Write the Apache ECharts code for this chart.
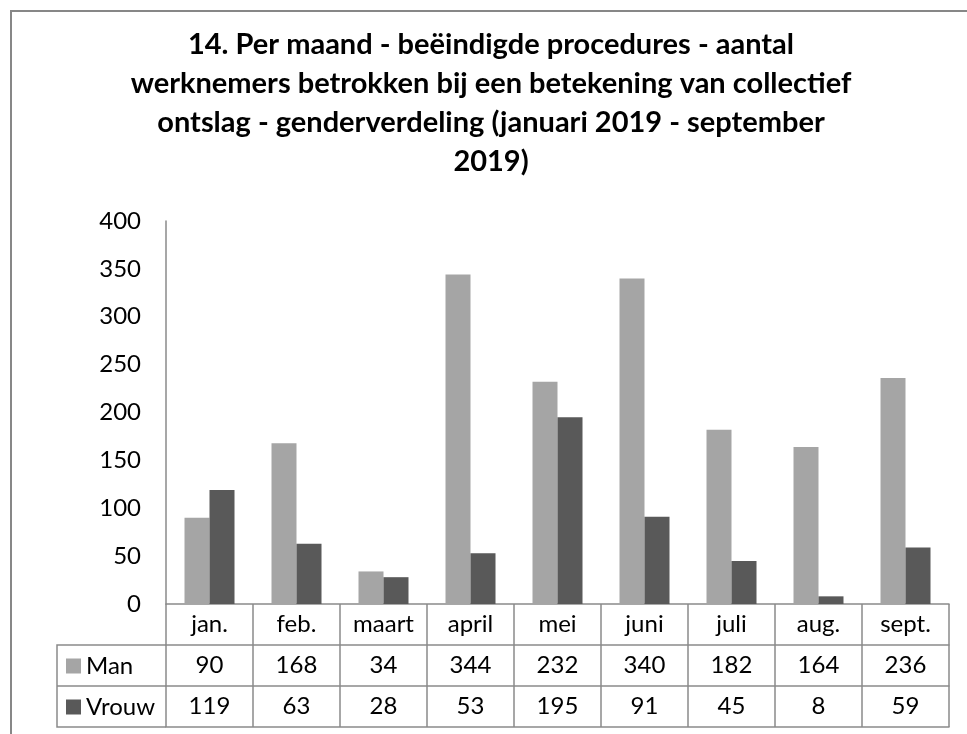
<html>
<head>
    <meta charset="utf-8">
    <script src="https://cdn.jsdelivr.net/npm/echarts@6/dist/echarts.min.js"></script>
</head>
<body style="margin:0">
<div id="main" style="width:967px;height:734px"></div>
<script>
    var months = ['jan.', 'feb.', 'maart', 'april', 'mei', 'juni', 'juli', 'aug.', 'sept.'];
    var manData = [90, 168, 34, 344, 232, 340, 182, 164, 236];
    var vrouwData = [119, 63, 28, 53, 195, 91, 45, 8, 59];
    var yTicks = {min: 0, max: 400, interval: 50};

    var FONT = 'Lato';
    var lineColor = '#8a8a8a';
    var rowH = 41;
    var fs = 24;

    var chart = echarts.init(document.getElementById('main'));

    function tableAxis(offset, values, showTicks) {
        return {
            type: 'category',
            data: months,
            position: 'bottom',
            offset: offset,
            axisLine: {show: true, lineStyle: {color: lineColor, width: 1.5}},
            axisTick: {show: showTicks, length: rowH, lineStyle: {color: lineColor, width: 1.5}},
            axisLabel: {
                show: !!values,
                interval: 0,
                margin: 8,
                fontFamily: FONT,
                fontSize: fs,
                lineHeight: fs,
                color: '#000',
                formatter: function (v, i) {
                    return values ? String(values[i]) : '';
                }
            },
            splitLine: {show: false}
        };
    }

    var option = {
        backgroundColor: '#fff',
        animation: false,
        title: {
            text: '14. Per maand - beëindigde procedures - aantal\nwerknemers betrokken bij een betekening van collectief\nontslag - genderverdeling (januari 2019 - september\n2019)',
            left: 486,
            top: 20,
            textAlign: 'center',
            textStyle: {
                fontFamily: FONT,
                fontWeight: 'bold',
                fontSize: 29,
                lineHeight: 39,
                color: '#000'
            }
        },
        legend: {
            data: ['Man', 'Vrouw'],
            orient: 'vertical',
            left: 66,
            top: 654,
            padding: 0,
            itemGap: rowH - fs,
            itemWidth: 15,
            itemHeight: 15,
            icon: 'rect',
            selectedMode: false,
            textStyle: {fontFamily: FONT, fontSize: fs, lineHeight: fs, color: '#000'}
        },
        grid: {left: 166, right: 18, top: 221, bottom: 130, containLabel: false},
        xAxis: [
            tableAxis(0, months, true),
            tableAxis(rowH, manData, true),
            tableAxis(rowH * 2, vrouwData, true),
            tableAxis(rowH * 3, null, false)
        ],
        yAxis: {
            type: 'value',
            min: yTicks.min,
            max: yTicks.max,
            interval: yTicks.interval,
            axisLine: {show: true, lineStyle: {color: lineColor, width: 1.5}},
            axisTick: {show: false},
            splitLine: {show: false},
            axisLabel: {fontFamily: FONT, fontSize: fs, color: '#000', margin: 25}
        },
        graphic: [
            // outer chart border
            {type: 'rect', shape: {x: 11, y: 11, width: 980, height: 760},
                style: {fill: null, stroke: '#878787', lineWidth: 2}, silent: true},
            // left column of the data table
            {type: 'polyline', shape: {points: [[166, 604 + rowH], [57, 604 + rowH], [57, 604 + rowH * 3], [166, 604 + rowH * 3]]},
                style: {fill: null, stroke: lineColor, lineWidth: 1.5}, silent: true},
            {type: 'line', shape: {x1: 57, y1: 604 + rowH * 2, x2: 166, y2: 604 + rowH * 2},
                style: {stroke: lineColor, lineWidth: 1.5}, silent: true}
        ],
        series: [
            {name: 'Man', type: 'bar', data: manData, barWidth: 25, barGap: '0%',
                itemStyle: {color: '#a5a5a5'}},
            {name: 'Vrouw', type: 'bar', data: vrouwData, barWidth: 25, barGap: '0%',
                itemStyle: {color: '#595959'}}
        ]
    };

    chart.setOption(option);
</script>
</body>
</html>
